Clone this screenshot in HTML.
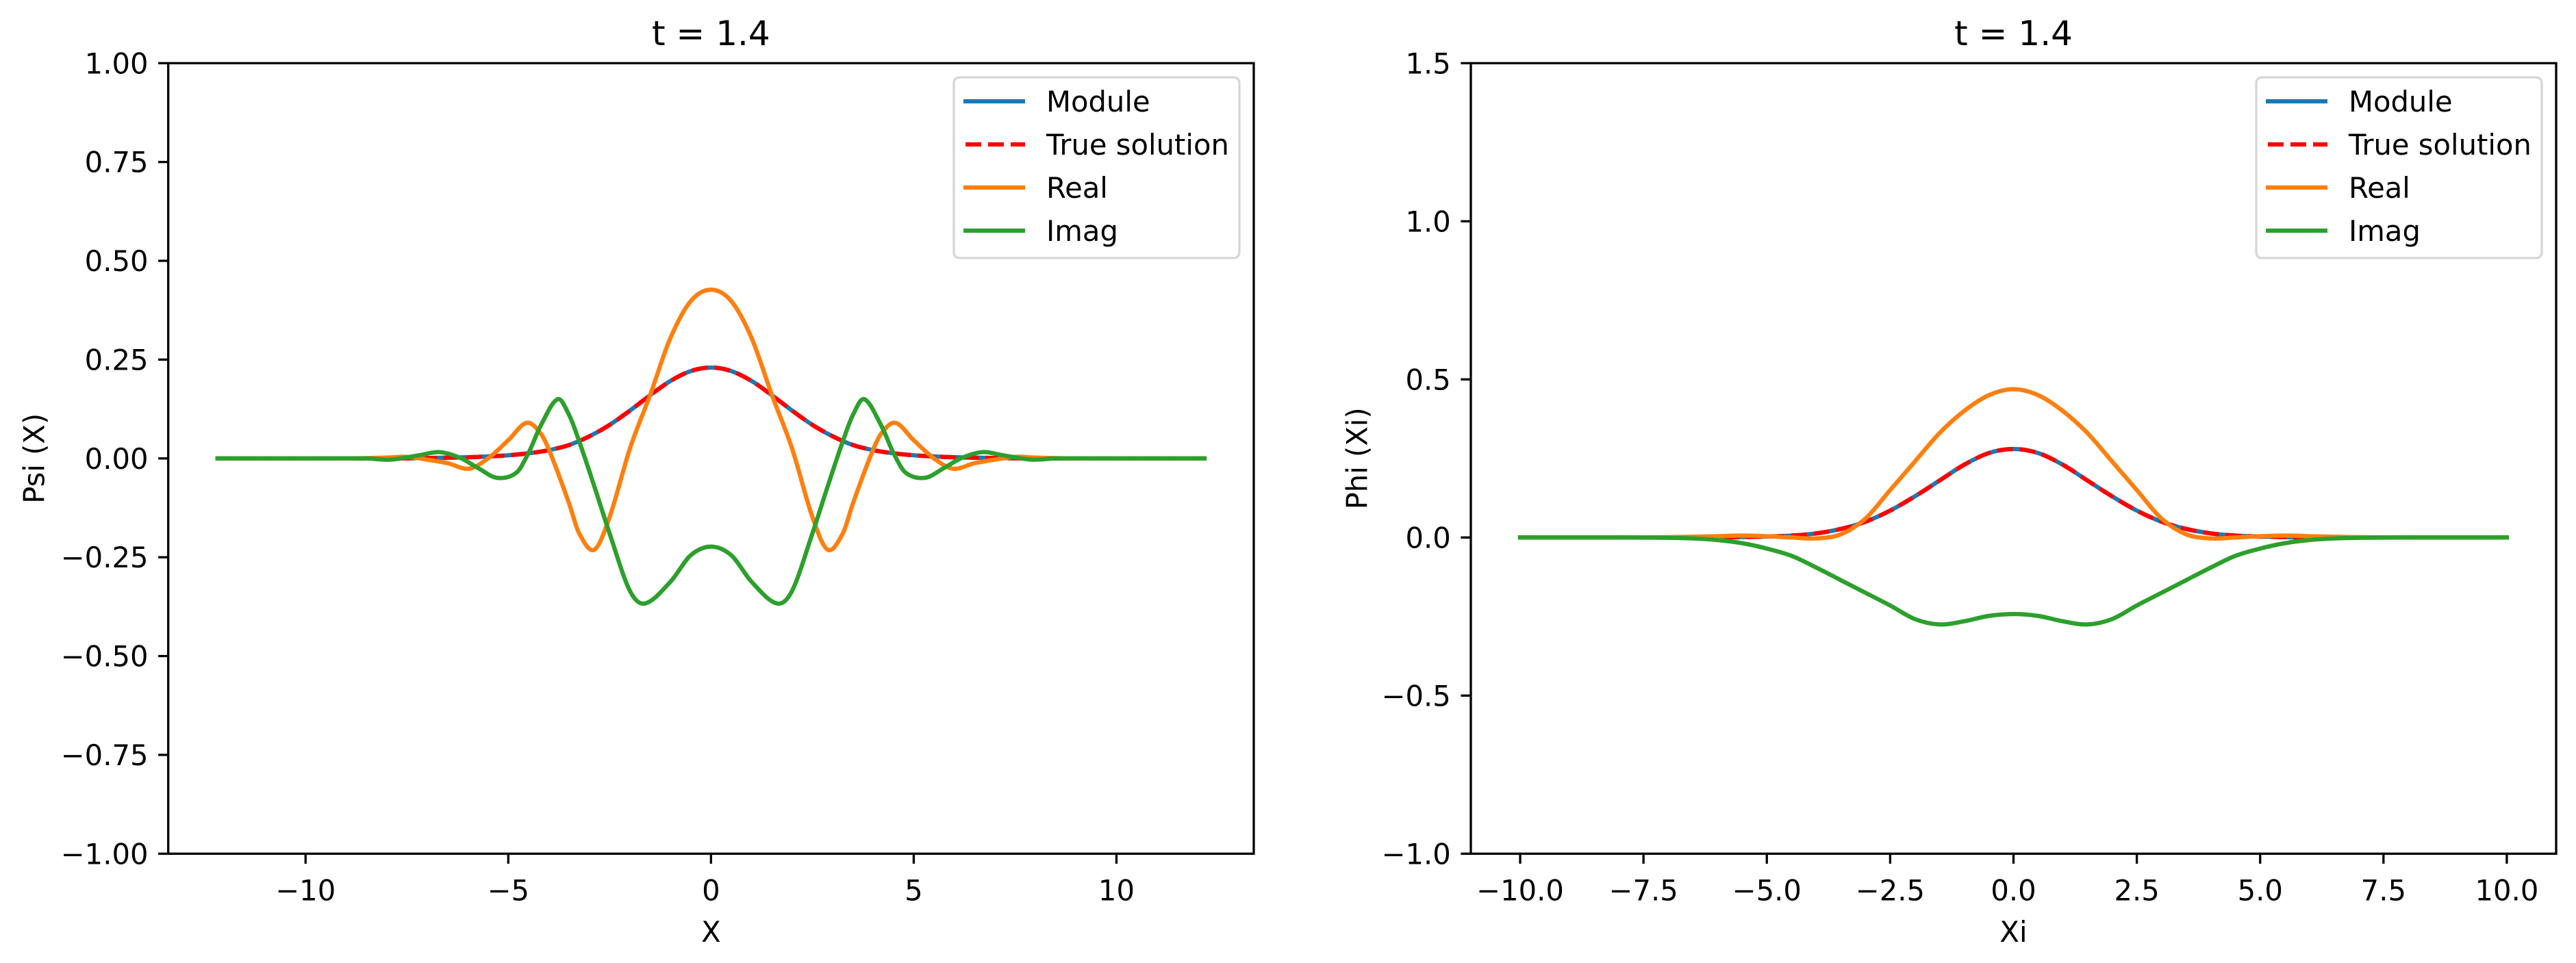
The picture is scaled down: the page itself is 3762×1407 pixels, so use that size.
<!DOCTYPE html>
<html><head><meta charset="utf-8">
<style>
html,body{margin:0;padding:0;background:#fff;}
svg{display:block;}
text{font-family:"DejaVu Sans","Liberation Sans",sans-serif;fill:#000;}
</style></head>
<body>
<svg id="fig" width="3762" height="1407" viewBox="0 0 3762 1407" xmlns="http://www.w3.org/2000/svg">
<rect width="3762" height="1407" fill="#fff"/>
<g id="left"></g>
<g id="right"></g>
</svg>
<script>
// ---------- Left panel data (Psi(X)) ----------
const psiModuleX = [-12.17,-10,-8,-7,-6,-5.5,-5,-4.5,-4,-3.5,-3,-2.5,-2,-1.5,-1,-0.5,0,0.5,1,1.5,2,2.5,3,3.5,4,4.5,5,5.5,6,7,8,10,12.17];
const psiModuleY = [0,0,0,0.001,0.003,0.005,0.008,0.013,0.021,0.034,0.056,0.085,0.121,0.160,0.196,0.221,0.230,0.221,0.196,0.160,0.121,0.085,0.056,0.034,0.021,0.013,0.008,0.005,0.003,0.001,0,0,0];
const psiRealX = [-12.17,-10,-9,-8,-7.5,-7,-6.5,-5.97,-5.5,-5,-4.55,-4.2,-3.93,-3.5,-3.25,-2.88,-2.5,-2,-1.5,-1,-0.5,0,0.5,1,1.5,2,2.5,2.88,3.25,3.5,3.93,4.2,4.55,5,5.5,5.97,6.5,7,7.5,8,9,10,12.17];
const psiRealY = [0,0,0,0.002,0.004,-0.003,-0.012,-0.026,0,0.046,0.090,0.063,0.005,-0.114,-0.19,-0.231,-0.148,0.025,0.161,0.305,0.398,0.427,0.398,0.305,0.161,0.025,-0.148,-0.231,-0.19,-0.114,0.005,0.063,0.090,0.046,0,-0.026,-0.012,-0.003,0.004,0.002,0,0,0];
const psiImagX = [-12.17,-10,-8.5,-7.9,-7.2,-6.7,-6.2,-5.75,-5.28,-4.8,-4.5,-4.2,-3.78,-3.5,-3.25,-2.88,-2.5,-2,-1.63,-1,-0.5,0,0.5,1,1.63,2,2.5,2.88,3.25,3.5,3.78,4.2,4.5,4.8,5.28,5.75,6.2,6.7,7.2,7.9,8.5,10,12.17];
const psiImagY = [0,0,0,-0.003,0.008,0.016,0.002,-0.024,-0.049,-0.036,0.014,0.083,0.150,0.11,0.043,-0.07,-0.19,-0.335,-0.367,-0.312,-0.245,-0.223,-0.245,-0.312,-0.367,-0.335,-0.19,-0.07,0.043,0.11,0.150,0.083,0.014,-0.036,-0.049,-0.024,0.002,0.016,0.008,-0.003,0,0,0];
const leftXTicks = [-10,-5,0,5,10];
const leftXTickLabels = ["−10","−5","0","5","10"];
const leftYTicks = [-1,-0.75,-0.5,-0.25,0,0.25,0.5,0.75,1];
const leftYTickLabels = ["−1.00","−0.75","−0.50","−0.25","0.00","0.25","0.50","0.75","1.00"];

// ---------- Right panel data (Phi(Xi)) ----------
const phiModuleX = [-10,-8,-6,-5,-4.5,-4,-3.5,-3,-2.5,-2,-1.5,-1,-0.5,0,0.5,1,1.5,2,2.5,3,3.5,4,4.5,5,6,8,10];
const phiModuleY = [0,0,0,0.003,0.006,0.013,0.027,0.05,0.085,0.13,0.18,0.23,0.267,0.28,0.267,0.23,0.18,0.13,0.085,0.05,0.027,0.013,0.006,0.003,0,0,0];
const phiRealX = [-10,-8,-7,-6,-5.5,-5,-4.5,-4,-3.5,-3,-2.5,-2,-1.5,-1,-0.5,0,0.5,1,1.5,2,2.5,3,3.5,4,4.5,5,5.5,6,7,8,10];
const phiRealY = [0,0,0.001,0.004,0.006,0.004,0,-0.003,0.01,0.06,0.15,0.24,0.33,0.40,0.45,0.469,0.45,0.40,0.33,0.24,0.15,0.06,0.01,-0.003,0,0.004,0.006,0.004,0.001,0,0];
const phiImagX = [-10,-8,-7,-6.5,-6,-5.5,-5,-4.5,-4,-3.5,-3,-2.5,-2,-1.5,-1,-0.5,0,0.5,1,1.5,2,2.5,3,3.5,4,4.5,5,5.5,6,6.5,7,8,10];
const phiImagY = [0,0,-0.001,-0.003,-0.008,-0.018,-0.035,-0.058,-0.095,-0.135,-0.175,-0.215,-0.258,-0.275,-0.265,-0.248,-0.242,-0.248,-0.265,-0.275,-0.258,-0.215,-0.175,-0.135,-0.095,-0.058,-0.035,-0.018,-0.008,-0.003,-0.001,0,0];
const rightXTicks = [-10,-7.5,-5,-2.5,0,2.5,5,7.5,10];
const rightXTickLabels = ["−10.0","−7.5","−5.0","−2.5","0.0","2.5","5.0","7.5","10.0"];
const rightYTicks = [-1,-0.5,0,0.5,1,1.5];
const rightYTickLabels = ["−1.0","−0.5","0.0","0.5","1.0","1.5"];

const NS = "http://www.w3.org/2000/svg";
function mk(tag, attrs, parent) {
  const e = document.createElementNS(NS, tag);
  for (const k in attrs) e.setAttribute(k, attrs[k]);
  parent.appendChild(e);
  return e;
}
// Cubic Hermite through data points (slopes in data space), drawn via Bezier
function smoothPath(xs, ys, sx, sy) {
  const n = xs.length;
  const m = xs.map((x, i) => {
    if (i === 0) return (ys[1] - ys[0]) / (xs[1] - xs[0]);
    if (i === n - 1) return (ys[n - 1] - ys[n - 2]) / (xs[n - 1] - xs[n - 2]);
    return (ys[i + 1] - ys[i - 1]) / (xs[i + 1] - xs[i - 1]);
  });
  let d = "M" + sx(xs[0]).toFixed(2) + "," + sy(ys[0]).toFixed(2);
  for (let i = 0; i < n - 1; i++) {
    const h = xs[i + 1] - xs[i];
    const c1x = xs[i] + h / 3, c1y = ys[i] + m[i] * h / 3;
    const c2x = xs[i + 1] - h / 3, c2y = ys[i + 1] - m[i + 1] * h / 3;
    d += " C" + sx(c1x).toFixed(2) + "," + sy(c1y).toFixed(2) + " " + sx(c2x).toFixed(2) + "," + sy(c2y).toFixed(2) + " " + sx(xs[i + 1]).toFixed(2) + "," + sy(ys[i + 1]).toFixed(2);
  }
  return d;
}

function panel(g, cfg) {
  const L = cfg.left, R = cfg.right, T = 92.3, B = 1247.3;
  const sx = x => L + (x - cfg.xmin) / (cfg.xmax - cfg.xmin) * (R - L);
  const sy = y => B - (y - cfg.ymin) / (cfg.ymax - cfg.ymin) * (B - T);
  const clip = mk("clipPath", {id: cfg.id + "-clip"}, g);
  mk("rect", {x: L, y: T, width: R - L, height: B - T}, clip);
  const plot = mk("g", {"clip-path": "url(#" + cfg.id + "-clip)"}, g);
  
  
  const series = [
    [cfg.modX, cfg.modY, "#1f77b4", null, "module-line"],
    [cfg.modX, cfg.modY, "#ff0000", "23,10", "true-solution-line"],
    [cfg.reX, cfg.reY, "#ff7f0e", null, "real-line"],
    [cfg.imX, cfg.imY, "#2ca02c", null, "imag-line"]
  ];
  series.forEach(s => {
    const p = mk("path", {d: smoothPath(s[0], s[1], sx, sy), fill: "none", stroke: s[2], "stroke-width": 6.25, "stroke-linejoin": "round"}, plot);
    if (s[3]) p.setAttribute("stroke-dasharray", s[3]);
    else p.setAttribute("stroke-linecap", "square");
    
    
  });
  cfg.xt.forEach((v, i) => {
    const x = sx(v);
    const t = mk("line", {x1: x, x2: x, y1: B, y2: B + 14.6, stroke: "#000", "stroke-width": 3.3}, g);
    
    
    const lb = mk("text", {x: x, y: B + 29.2 + 39, "text-anchor": "middle", "font-size": 41.7}, g);
    lb.textContent = cfg.xtl[i];
    
    
  });
  cfg.yt.forEach((v, i) => {
    const y = sy(v);
    const t = mk("line", {x1: L - 14.6, x2: L, y1: y, y2: y, stroke: "#000", "stroke-width": 3.3}, g);
    
    
    const lb = mk("text", {x: L - 29.2, y: y + 15, "text-anchor": "end", "font-size": 41.7}, g);
    lb.textContent = cfg.ytl[i];
    
    
  });
  const frame = mk("rect", {x: L, y: T, width: R - L, height: B - T, fill: "none", stroke: "#000", "stroke-width": 3.3}, g);
  
  
  const title = mk("text", {x: (L + R) / 2, y: 66, "text-anchor": "middle", "font-size": 50}, g);
  title.textContent = "t = 1.4";
  
  
  const xl = mk("text", {x: (L + R) / 2, y: 1376, "text-anchor": "middle", "font-size": 41.7}, g);
  xl.textContent = cfg.xlabel;
  
  
  const ylx = cfg.ylabelX, yly = (T + B) / 2;
  const yl = mk("text", {x: ylx, y: yly, "text-anchor": "middle", "font-size": 41.7, transform: "rotate(-90 " + ylx + " " + yly + ")", "dominant-baseline": "central"}, g);
  yl.textContent = cfg.ylabel;
  
  
  const lg = mk("g", {}, g);
  
  
  const lx = R - 21 - 417;
  mk("rect", {x: lx, y: 113, width: 417, height: 264, rx: 8, fill: "#fff", "fill-opacity": 0.8, stroke: "#d6d6d6", "stroke-width": 3.3}, lg);
  const items = [["Module", "#1f77b4", null], ["True solution", "#ff0000", "23,10"], ["Real", "#ff7f0e", null], ["Imag", "#2ca02c", null]];
  items.forEach((it, i) => {
    const y = 148 + i * 63;
    const e = mk("g", {}, lg);
    
    
    const ln = mk("line", {x1: lx + 14, x2: lx + 104, y1: y, y2: y, stroke: it[1], "stroke-width": 6.25}, e);
    if (it[2]) { ln.setAttribute("stroke-dasharray", it[2]); ln.setAttribute("x1", lx + 17); }
    const tx = mk("text", {x: lx + 135, y: y + 15, "font-size": 41.7}, e);
    tx.textContent = it[0];
  });
}

panel(document.getElementById("left"), {
  id: "L", left: 245.7, right: 1831, xmin: -13.387, xmax: 13.387, ymin: -1, ymax: 1,
  modX: psiModuleX, modY: psiModuleY, reX: psiRealX, reY: psiRealY, imX: psiImagX, imY: psiImagY,
  xt: leftXTicks, xtl: leftXTickLabels, yt: leftYTicks, ytl: leftYTickLabels,
  xlabel: "X", ylabel: "Psi (X)", ylabelX: 50
});
panel(document.getElementById("right"), {
  id: "R", left: 2148, right: 3733, xmin: -11, xmax: 11, ymin: -1, ymax: 1.5,
  modX: phiModuleX, modY: phiModuleY, reX: phiRealX, reY: phiRealY, imX: phiImagX, imY: phiImagY,
  xt: rightXTicks, xtl: rightXTickLabels, yt: rightYTicks, ytl: rightYTickLabels,
  xlabel: "Xi", ylabel: "Phi (Xi)", ylabelX: 1982
});
</script>
</body></html>
